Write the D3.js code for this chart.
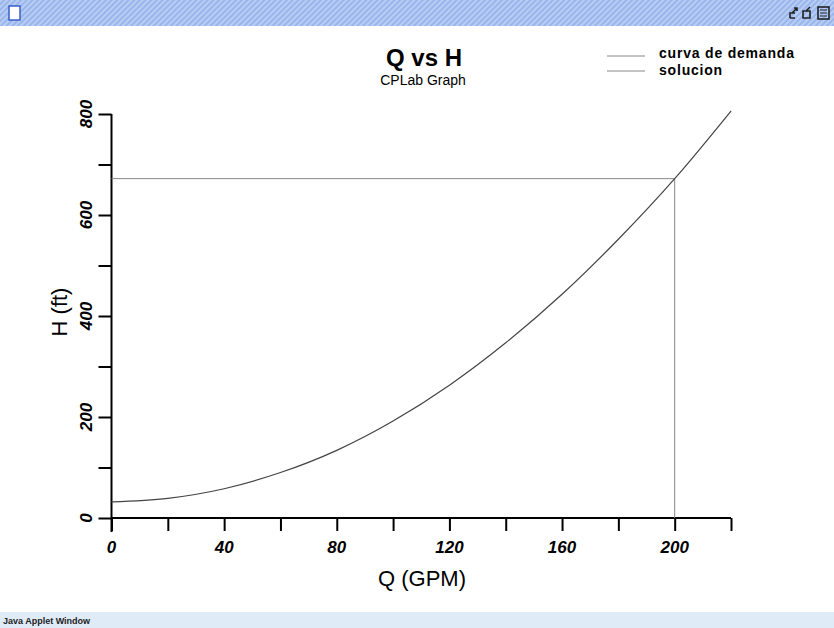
<!DOCTYPE html>
<html>
<head>
<meta charset="utf-8">
<script src="https://cdn.jsdelivr.net/npm/d3@7"></script>
<style>
  body { margin: 0; background: #fff; }
  svg text { font-family: "Liberation Sans", Arial, sans-serif; }
</style>
</head>
<body>
<div id="chart"></div>
<script>
var width = 834,
  height = 628;

// data
var qValues = [0, 20, 40, 60, 80, 100, 120, 140, 160, 180, 200, 220];
var hValues = [32, 39, 58, 90, 134, 192, 263, 347, 443, 552, 672, 806];
var solucion = { q: 200, h: 672 };
var xTicks = [0, 20, 40, 60, 80, 100, 120, 140, 160, 180, 200, 220];
var xLabels = [0, 40, 80, 120, 160, 200];
var yTicks = [0, 100, 200, 300, 400, 500, 600, 700, 800];
var yLabels = [0, 200, 400, 600, 800];
var legendNames = ["curva de demanda", "solucion"];

var svg = d3.select("#chart").append("svg")
  .attr("width", width)
  .attr("height", height);

// window chrome: hatched title bar
var defs = svg.append("defs");
var pat = defs.append("pattern")
  .attr("id", "hatch")
  .attr("width", 4).attr("height", 4)
  .attr("patternUnits", "userSpaceOnUse")
  .attr("patternTransform", "rotate(45)");
pat.append("rect").attr("width", 4).attr("height", 4).attr("fill", "#98b6ec");
pat.append("rect").attr("width", 2).attr("height", 4).attr("fill", "#b8cdf3");

svg.append("rect").attr("x", 0).attr("y", 0).attr("width", width).attr("height", 26)
  .attr("fill", "url(#hatch)");
svg.append("rect").attr("x", 9).attr("y", 6).attr("width", 11).attr("height", 14)
  .attr("fill", "#fff").attr("stroke", "#3a5fc8").attr("stroke-width", 1.5);
// right-hand window buttons
var btn = svg.append("g").attr("fill", "none").attr("stroke", "#222").attr("stroke-width", 1.6);
btn.append("path").attr("d", "M790,18 v-5 h5 M795,18 h-5 M792,13 l5,-5 M794,8 h3 v3");
btn.append("path").attr("d", "M803,18 v-7 h7 v7 z M806,11 l4,-4");
btn.append("rect").attr("x", 818).attr("y", 7).attr("width", 11).attr("height", 12);
btn.append("path").attr("d", "M820,10 h7 M820,13 h7 M820,16 h7").attr("stroke-width", 1);

// bottom status bar
svg.append("rect").attr("x", 0).attr("y", 612).attr("width", width).attr("height", 16)
  .attr("fill", "#dfebf7");
svg.append("text").attr("x", 3).attr("y", 624)
  .attr("font-size", 9).attr("font-weight", "bold").attr("fill", "#222")
  .text("Java Applet Window");

// scales
var x = d3.scaleLinear().domain([0, 220]).range([111.5, 731]);
var y = d3.scaleLinear().domain([0, 800]).range([518, 114]);

// axes
var xAxis = svg.append("g")
  .attr("transform", "translate(0," + y(0) + ")")
  .call(d3.axisBottom(x).tickValues(xTicks).tickSize(13).tickFormat(""));
xAxis.select(".domain").attr("d", "M" + x(0) + ",0H" + x(220))
  .attr("stroke-width", 2);
xAxis.selectAll(".tick line").attr("stroke-width", 2);

var yAxis = svg.append("g")
  .attr("transform", "translate(" + x(0) + ",0)")
  .call(d3.axisLeft(y).tickValues(yTicks).tickSize(13).tickFormat(""));
yAxis.select(".domain").attr("d", "M0," + y(800) + "V" + (y(0) + 14))
  .attr("stroke-width", 2);
yAxis.selectAll(".tick line").attr("stroke-width", 2);

svg.append("g").selectAll("text")
  .data(xLabels).enter().append("text")
  .attr("x", function(d) { return x(d); })
  .attr("y", 553)
  .attr("text-anchor", "middle")
  .attr("font-size", 17).attr("font-weight", "bold").attr("font-style", "italic")
  .text(function(d) { return d; });

svg.append("g").selectAll("text")
  .data(yLabels).enter().append("text")
  .attr("transform", function(d) { return "translate(92," + y(d) + ") rotate(-90)"; })
  .attr("text-anchor", "middle")
  .attr("font-size", 17).attr("font-weight", "bold").attr("font-style", "italic")
  .text(function(d) { return d; });

// axis titles
svg.append("text").attr("x", 422).attr("y", 586)
  .attr("text-anchor", "middle").attr("font-size", 22)
  .text("Q (GPM)");
svg.append("text").attr("transform", "translate(67,312) rotate(-90)")
  .attr("text-anchor", "middle").attr("font-size", 22)
  .text("H (ft)");

// title
svg.append("text").attr("x", 424).attr("y", 66)
  .attr("text-anchor", "middle").attr("font-size", 24).attr("font-weight", "bold")
  .text("Q vs H");
svg.append("text").attr("x", 423).attr("y", 85)
  .attr("text-anchor", "middle").attr("font-size", 14)
  .text("CPLab Graph");

// solution lines
svg.append("line")
  .attr("x1", x(0)).attr("x2", x(solucion.q))
  .attr("y1", y(solucion.h)).attr("y2", y(solucion.h))
  .attr("stroke", "#888").attr("stroke-width", 1);
svg.append("line")
  .attr("x1", x(solucion.q)).attr("x2", x(solucion.q))
  .attr("y1", y(solucion.h)).attr("y2", y(0))
  .attr("stroke", "#888").attr("stroke-width", 1);

// demand curve
var line = d3.line()
  .x(function(d, i) { return x(qValues[i]); })
  .y(function(d) { return y(d); })
  .curve(d3.curveMonotoneX);
svg.append("path")
  .datum(hValues)
  .attr("d", line)
  .attr("fill", "none")
  .attr("stroke", "#444")
  .attr("stroke-width", 1.2);

// legend
var legend = svg.append("g").attr("id", "legend");
legendNames.forEach(function(name, i) {
  legend.append("line")
    .attr("x1", 607).attr("x2", 645)
    .attr("y1", 56 + i * 15).attr("y2", 56 + i * 15)
    .attr("stroke", "#888").attr("stroke-width", 1);
  legend.append("text")
    .attr("x", 659).attr("y", 58 + i * 17)
    .attr("font-size", 14).attr("font-weight", "bold")
    .attr("letter-spacing", 0.8)
    .text(name);
});
</script>
</body>
</html>
